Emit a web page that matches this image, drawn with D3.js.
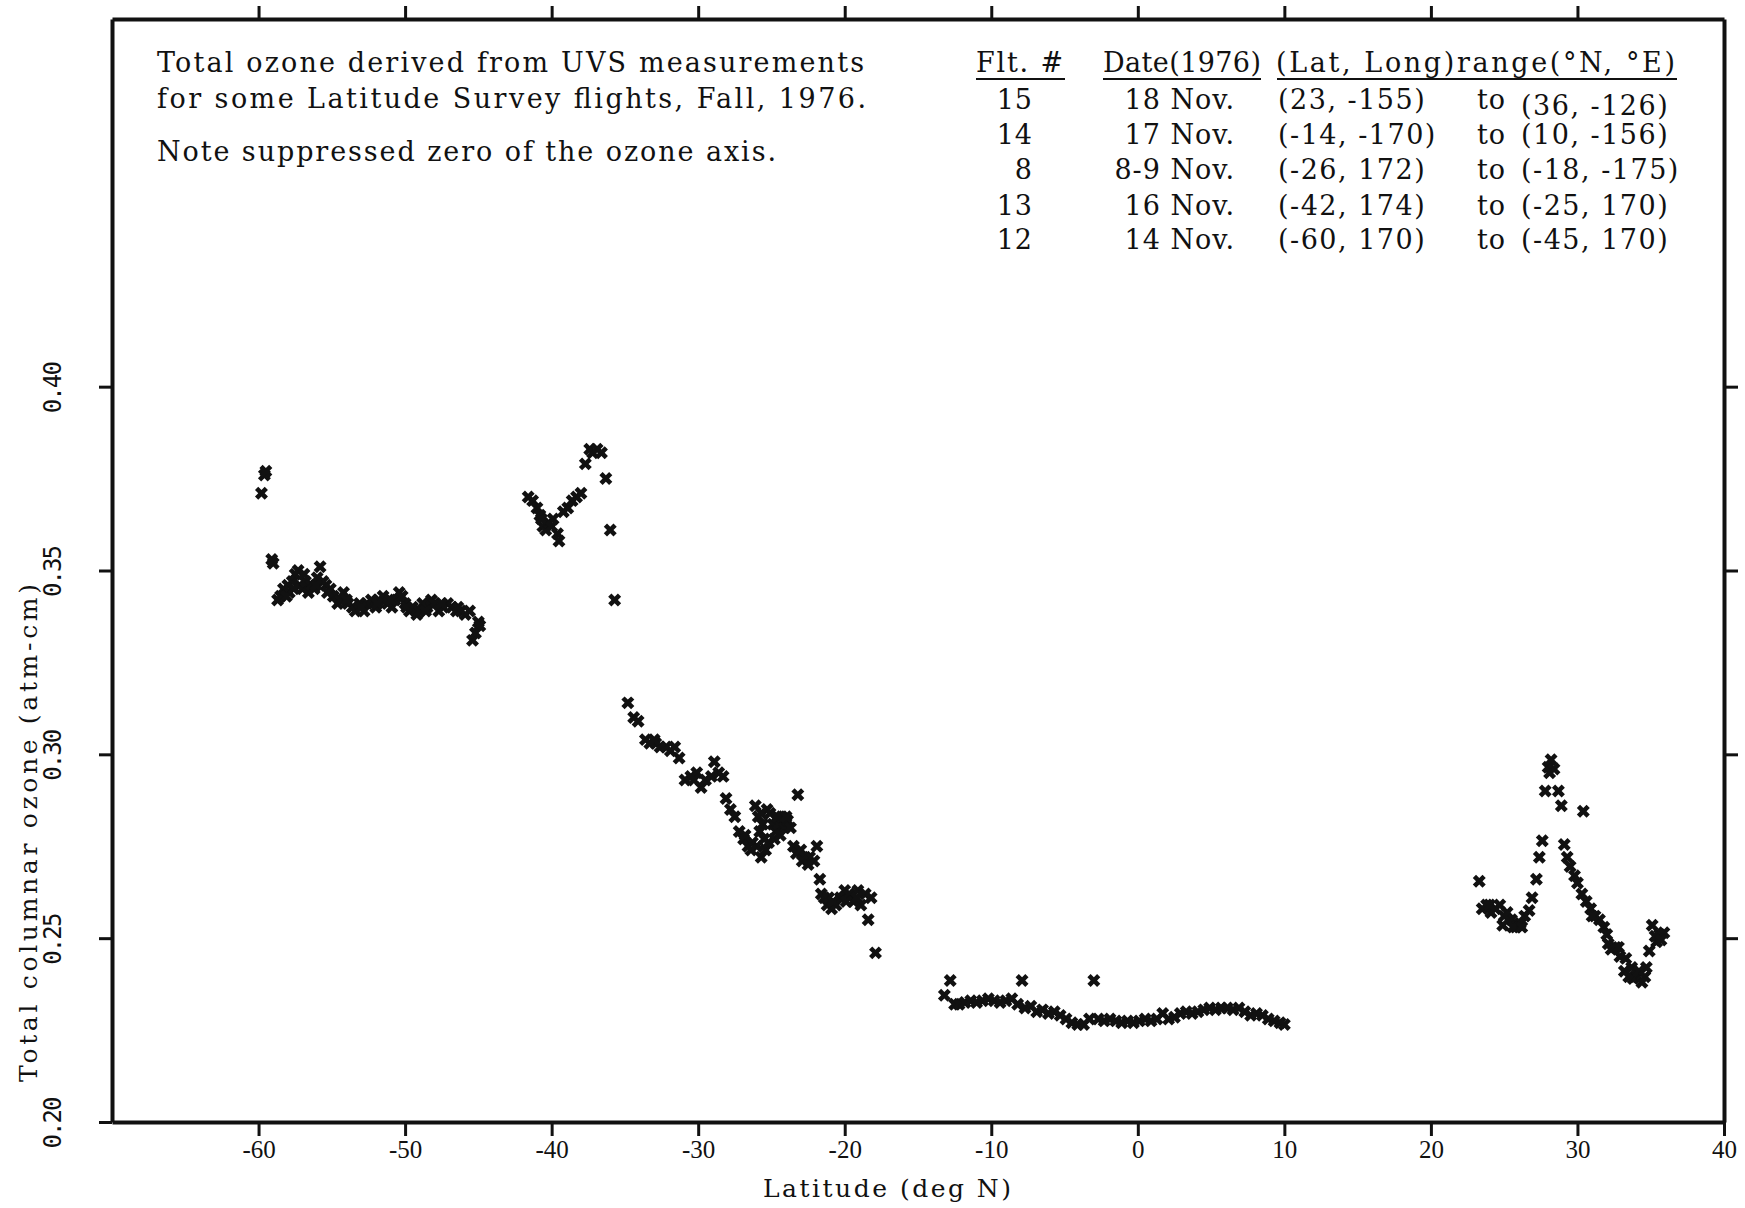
<!DOCTYPE html>
<html>
<head>
<meta charset="utf-8">
<title>UVS total ozone</title>
<script src="https://cdnjs.cloudflare.com/ajax/libs/d3/7.8.5/d3.min.js"></script>
</head>
<style>
  body { margin: 0; background: #fff; }
  svg { display: block; background: #fff; }
  text { font-family: "DejaVu Serif", serif; fill: #111; }
</style>
<body>
<svg id="svg" width="1745" height="1208"></svg>
<script>
// flight 12, 14 Nov.
const flt12 = [[-59.8,0.371],[-59.6,0.376],[-59.5,0.377],[-59.1,0.353],[-59.0,0.352],[-58.7,0.342],[-58.5,0.343],
  [-58.3,0.345],[-58.0,0.346],[-57.9,0.344],[-57.7,0.347],[-57.5,0.349],[-57.3,0.350],[-57.2,0.346],[-57.0,0.345],
  [-56.8,0.347],[-56.6,0.344],[-56.4,0.346],[-56.2,0.345],[-56.0,0.348],[-55.8,0.351],[-55.6,0.347],[-55.4,0.346],
  [-55.1,0.345],[-54.9,0.343],[-54.6,0.341],[-54.4,0.342],[-54.2,0.344],[-53.9,0.341],[-53.6,0.340],[-53.4,0.339],
  [-53.1,0.341],[-52.8,0.339],[-52.6,0.341],[-52.3,0.342],[-52.0,0.340],[-51.8,0.342],[-51.5,0.343],[-51.2,0.341],
  [-50.9,0.340],[-50.7,0.342],[-50.4,0.344],[-50.2,0.343],[-50.0,0.341],[-49.7,0.339],[-49.5,0.340],[-49.2,0.338],
  [-49.0,0.339],[-48.8,0.341],[-48.5,0.340],[-48.2,0.342],[-48.0,0.341],[-47.7,0.339],[-47.4,0.340],[-47.1,0.341],
  [-46.8,0.340],[-46.5,0.339],[-46.2,0.339],[-45.9,0.338],[-45.6,0.339],[-45.4,0.331],[-45.2,0.333],[-45.0,0.336],
  [-44.9,0.335],[-58.1,0.343],[-57.6,0.345],[-56.9,0.349],[-56.1,0.346],[-55.3,0.344],[-54.0,0.342],[-53.0,0.340],
  [-51.9,0.341],[-51.0,0.342],[-49.9,0.340],[-48.6,0.339],[-47.5,0.341],[-46.4,0.340]];
// flight 13, 16 Nov.
const flt13 = [[-41.6,0.370],[-41.3,0.369],[-41.0,0.367],[-40.8,0.365],[-40.6,0.362],[-40.4,0.361],[-40.2,0.363],
  [-39.9,0.364],[-39.6,0.360],[-39.5,0.358],[-39.2,0.366],[-38.9,0.367],[-38.6,0.369],[-38.3,0.370],[-38.0,0.371],
  [-37.7,0.379],[-37.4,0.383],[-37.2,0.382],[-36.9,0.383],[-36.6,0.382],[-36.3,0.375],[-36.0,0.361],[-35.7,0.342],
  [-34.8,0.314],[-34.4,0.310],[-34.1,0.309],[-33.6,0.304],[-33.3,0.303],[-32.9,0.303],[-32.6,0.302],[-32.2,0.302],
  [-31.9,0.301],[-31.6,0.302],[-31.3,0.299],[-30.9,0.293],[-30.5,0.294],[-30.1,0.295],[-29.8,0.291],[-29.5,0.293],
  [-29.1,0.294],[-28.9,0.298],[-28.6,0.295],[-28.3,0.294],[-28.1,0.288],[-27.8,0.285],[-27.5,0.283],[-27.2,0.279],
  [-26.9,0.277],[-26.6,0.275],[-26.3,0.276],[-26.0,0.275],[-25.7,0.272],[-25.4,0.274],[-40.7,0.364],[-40.0,0.362],
  [-33.0,0.304],[-30.3,0.293],[-26.8,0.278],[-26.4,0.274]];
// flight 8, 8-9 Nov.
const flt8 = [[-26.1,0.286],[-25.9,0.283],[-25.6,0.281],[-25.3,0.285],[-25.1,0.284],[-24.9,0.281],[-24.7,0.279],
  [-24.5,0.281],[-24.3,0.283],[-24.1,0.280],[-23.9,0.282],[-23.7,0.280],[-23.2,0.289],[-23.5,0.275],[-23.3,0.273],
  [-23.0,0.274],[-22.7,0.272],[-22.4,0.272],[-22.1,0.271],[-21.9,0.275],[-21.7,0.266],[-21.6,0.262],[-21.4,0.261],
  [-21.2,0.259],[-20.9,0.258],[-20.6,0.259],[-20.3,0.261],[-20.0,0.263],[-19.7,0.262],[-19.4,0.260],[-19.1,0.263],
  [-18.9,0.259],[-18.6,0.262],[-18.4,0.255],[-18.2,0.261],[-17.9,0.246],[-25.8,0.279],[-25.5,0.277],[-25.2,0.276],
  [-24.8,0.277],[-24.6,0.283],[-24.4,0.278],[-24.0,0.283],[-25.7,0.284],[-22.9,0.271],[-22.5,0.270],[-21.1,0.261],
  [-20.8,0.260],[-19.9,0.260],[-19.2,0.261]];
// flight 14, 17 Nov.
const flt14 = [[-13.2,0.2345],[-12.8,0.2385],[-12.5,0.232],[-12.2,0.232],[-11.8,0.2325],[-11.4,0.233],[-11.0,0.2325],
  [-10.6,0.233],[-10.2,0.2335],[-9.8,0.233],[-9.4,0.2325],[-9.0,0.233],[-8.6,0.2335],[-8.2,0.232],[-7.9,0.2385],
  [-7.7,0.231],[-7.3,0.2315],[-6.9,0.230],[-6.5,0.2305],[-6.1,0.2295],[-5.7,0.230],[-5.3,0.229],[-4.9,0.228],
  [-4.5,0.227],[-4.1,0.2265],[-3.7,0.2265],[-3.3,0.228],[-3.0,0.2385],[-2.7,0.228],[-2.3,0.2275],[-1.9,0.228],
  [-1.5,0.2275],[-1.1,0.227],[-0.7,0.2275],[-0.3,0.227],[0.1,0.2275],[0.5,0.228],[0.9,0.2275],[1.3,0.228],
  [1.7,0.2295],[2.1,0.228],[2.5,0.2285],[2.9,0.2295],[3.3,0.230],[3.7,0.2295],[4.1,0.230],[4.5,0.2305],[4.9,0.231],
  [5.3,0.2305],[5.7,0.231],[6.1,0.231],[6.5,0.2305],[6.9,0.231],[7.3,0.230],[7.7,0.229],[8.1,0.2295],[8.5,0.229],
  [8.9,0.228],[9.3,0.2275],[9.7,0.227],[10.0,0.2265]];
// flight 15, 18 Nov.
const flt15 = [[23.3,0.2655],[23.5,0.258],[23.8,0.259],[24.1,0.257],[24.4,0.258],[24.7,0.259],[24.9,0.2535],
  [25.2,0.257],[25.5,0.255],[25.8,0.253],[26.1,0.254],[26.4,0.256],[26.7,0.2575],[26.9,0.261],[27.2,0.266],
  [27.4,0.272],[27.6,0.2765],[27.8,0.290],[28.0,0.2965],[28.2,0.2985],[28.4,0.296],[28.7,0.290],[28.9,0.286],
  [29.1,0.2755],[29.3,0.272],[29.5,0.2695],[29.8,0.267],[30.0,0.265],[30.4,0.2845],[30.3,0.262],[30.6,0.260],
  [30.9,0.258],[31.2,0.256],[31.5,0.255],[31.8,0.253],[32.1,0.2485],[32.3,0.247],[32.6,0.2475],[32.9,0.245],
  [33.2,0.241],[33.5,0.2395],[33.8,0.239],[34.1,0.2395],[34.4,0.238],[34.7,0.242],[34.9,0.2465],[35.1,0.2535],
  [35.4,0.249],[35.6,0.251],[35.9,0.2515],[24.0,0.259],[25.0,0.256],[25.6,0.253],[26.2,0.253],[28.1,0.295],
  [31.0,0.256],[32.0,0.251],[32.8,0.2475],[33.3,0.2445],[33.7,0.242],[34.2,0.241],[34.6,0.2395],[35.3,0.2505],
  [35.7,0.2495]];

// flight table
const fltNums = ['15', '14', '8', '13', '12'];
const fltDates = ['18 Nov.', '17 Nov.', '8-9 Nov.', '16 Nov.', '14 Nov.'];
const fltFrom = ['(23, -155)', '(-14, -170)', '(-26, 172)', '(-42, 174)', '(-60, 170)'];
const fltTo = ['(36, -126)', '(10, -156)', '(-18, -175)', '(-25, 170)', '(-45, 170)'];

const xTicks = [-60, -50, -40, -30, -20, -10, 0, 10, 20, 30, 40];
const yTicks = [0.20, 0.25, 0.30, 0.35, 0.40];

const svg = d3.select('#svg');
const x = d3.scaleLinear().domain([-70, 40]).range([112, 1724]);
const y = d3.scaleLinear().domain([0.2, 0.5]).range([1122, 19]);

function frame(g) {
  g.select('.domain').attr('stroke', '#111').attr('stroke-width', 4);
  g.selectAll('.tick line').attr('stroke', '#111').attr('stroke-width', 3);
}

// bottom
svg.append('g').attr('transform', `translate(0,${y(0.2)})`)
  .call(d3.axisBottom(x).tickValues(xTicks).tickSize(14).tickSizeOuter(0).tickFormat(d => String(d)))
  .call(frame)
  .call(g => g.selectAll('.tick text')
    .attr('y', 36).attr('dy', null)
    .style('font-family', '"Liberation Serif", serif').style('font-size', '25px'));

// top
svg.append('g').attr('transform', `translate(0,${y(0.5)})`)
  .call(d3.axisTop(x).tickValues(xTicks.slice(0, -1)).tickSize(13).tickSizeOuter(0).tickFormat(''))
  .call(frame);

// left
svg.append('g').attr('transform', `translate(${x(-70)},0)`)
  .call(d3.axisLeft(y).tickValues(yTicks).tickSize(13).tickSizeOuter(0).tickFormat(d3.format('.2f')))
  .call(frame)
  .call(g => g.selectAll('.tick text')
    .attr('x', null).attr('dy', null)
    .attr('text-anchor', 'middle')
    .attr('transform', 'translate(-51,0) rotate(-90)')
    .attr('textLength', 52).attr('lengthAdjust', 'spacing')
    .style('font-family', '"DejaVu Sans Mono", monospace').style('font-size', '24px'));

// right
svg.append('g').attr('transform', `translate(${x(40)},0)`)
  .call(d3.axisRight(y).tickValues(yTicks.slice(1)).tickSize(14).tickSizeOuter(0).tickFormat(''))
  .call(frame);

// points
const flights = [flt12, flt13, flt8, flt14, flt15];
const star = d3.symbol(d3.symbolCross, 105);
svg.append('g').selectAll('g')
  .data(flights)
  .join('g')
  .selectAll('path')
  .data(d => d)
  .join('path')
  .attr('d', star)
  .attr('transform', d => `translate(${x(d[0])},${y(d[1])}) rotate(45)`)
  .attr('fill', '#111');

function label(txt, px, py, len, anchor = 'start', size = 27) {
  const t = svg.append('text')
    .attr('x', px).attr('y', py)
    .attr('font-size', size)
    .attr('text-anchor', anchor)
    .text(txt);
  if (len) t.attr('textLength', len).attr('lengthAdjust', 'spacing');
  return t;
}

// note text
label('Total ozone derived from UVS measurements', 157, 72, 707);
label('for some Latitude Survey flights, Fall, 1976.', 157, 108, 709);
label('Note suppressed zero of the ozone axis.', 157, 161, 619);

// table header
label('Flt. #', 976, 72, 87);
label('Date(1976)', 1103, 72, 158);
label('(Lat, Long)range(°N,  °E)', 1276, 72, 399);
[[976, 1065], [1103, 1261], [1277, 1677]].forEach(([a, b]) => {
  svg.append('line').attr('x1', a).attr('x2', b).attr('y1', 79).attr('y2', 79)
    .attr('stroke', '#111').attr('stroke-width', 2);
});

const rowY = [109, 144, 179, 215, 249];
fltNums.forEach((n, i) => {
  label(n, 1033, rowY[i], null, 'end').attr('letter-spacing', 1);
  label(fltDates[i], 1235, rowY[i], null, 'end').attr('letter-spacing', 1);
  label(fltFrom[i], 1278, rowY[i]).attr('letter-spacing', 1.5);
  label('to', 1477, rowY[i]).attr('letter-spacing', 1);
  label(fltTo[i], 1521, rowY[i] + (i === 0 ? 6 : 0)).attr('letter-spacing', 1.5);
});

// axis titles
label('Latitude (deg N)', 887, 1197, 248, 'middle', 25);
label('Total columnar ozone  (atm-cm)', 0, 0, 498, 'middle', 25)
  .attr('transform', 'translate(37,833) rotate(-90)');
</script>
</body>
</html>
